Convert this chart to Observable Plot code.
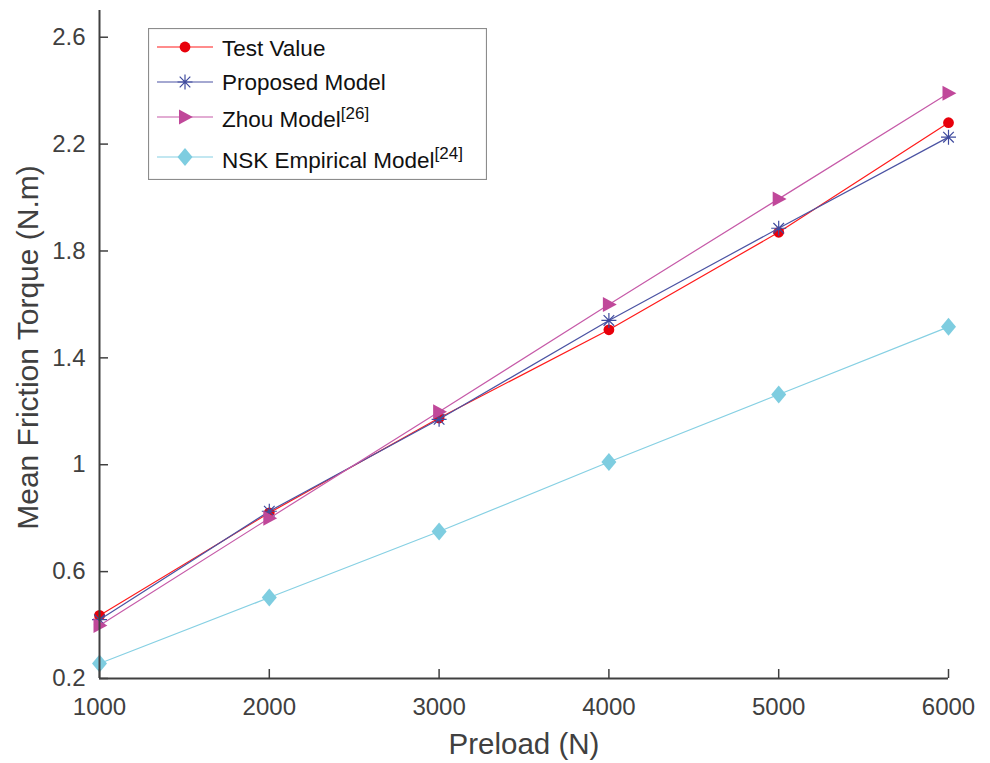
<!DOCTYPE html>
<html>
<head>
<meta charset="utf-8">
<script src="https://cdn.jsdelivr.net/npm/d3@7"></script>
<script src="https://cdn.jsdelivr.net/npm/@observablehq/plot@0.6"></script>
<style>
  html, body { margin: 0; padding: 0; background: #fff; }
  #wrap { position: relative; width: 990px; height: 763px; font-family: "Liberation Sans", Arial, sans-serif; }
  #legend { position: absolute; left: 148px; top: 28px; }
</style>
</head>
<body>
<div id="wrap"><div id="chart"></div><div id="legend"></div></div>
<script>
const preload = [1000, 2000, 3000, 4000, 5000, 6000];
const testValue = [0.436, 0.82, 1.175, 1.505, 1.87, 2.28];
const proposedModel = [0.42, 0.826, 1.17, 1.54, 1.885, 2.226];
const zhouModel = [0.398, 0.80, 1.198, 1.60, 1.995, 2.39];
const nskModel = [0.256, 0.503, 0.75, 1.01, 1.263, 1.516];
const xTicks = [1000, 2000, 3000, 4000, 5000, 6000];
const yTicks = [0.2, 0.6, 1.0, 1.4, 1.8, 2.2, 2.6];
const seriesNames = ["Test Value", "Proposed Model", "Zhou Model", "NSK Empirical Model"];
const seriesRefs = ["", "", "[26]", "[24]"];

// custom marker shapes (MATLAB-like)
const symCircle = {draw(ctx, size) { const r = Math.sqrt(size / Math.PI) * 0.72; ctx.moveTo(r, 0); ctx.arc(0, 0, r, 0, 2 * Math.PI); }};
const symStar = {draw(ctx, size) {
  const r = Math.sqrt(size / Math.PI);
  for (let i = 0; i < 4; i++) {
    const a = i * Math.PI / 4;
    ctx.moveTo(-r * Math.cos(a), -r * Math.sin(a));
    ctx.lineTo(r * Math.cos(a), r * Math.sin(a));
  }
}};
const symTriRight = {draw(ctx, size) {
  const r = Math.sqrt(size / Math.PI);
  ctx.moveTo(-r * 0.8, -r); ctx.lineTo(r * 1.05, 0); ctx.lineTo(-r * 0.8, r); ctx.closePath();
}};
const symDiamond = {draw(ctx, size) {
  const r = Math.sqrt(size / Math.PI);
  ctx.moveTo(0, -r * 1.2); ctx.lineTo(r, 0); ctx.lineTo(0, r * 1.2); ctx.lineTo(-r, 0); ctx.closePath();
}};

const series = [
  {name: seriesNames[0], values: testValue, line: "#ff1a1a", mark: "#e8000b", symbol: symCircle, filled: true},
  {name: seriesNames[1], values: proposedModel, line: "#4b53a3", mark: "#3f4b9e", symbol: symStar, filled: false},
  {name: seriesNames[2], values: zhouModel, line: "#c65aa8", mark: "#c0489a", symbol: symTriRight, filled: true},
  {name: seriesNames[3], values: nskModel, line: "#86d0e3", mark: "#7ecde0", symbol: symDiamond, filled: true}
];

const marks = [];
for (const s of series) {
  const rows = preload.map((x, i) => ({x, y: s.values[i]}));
  marks.push(Plot.line(rows, {x: "x", y: "y", stroke: s.line, strokeWidth: 1.2}));
  marks.push(Plot.dot(rows, s.filled
    ? {x: "x", y: "y", r: 7.5, symbol: s.symbol, fill: s.mark, stroke: "none"}
    : {x: "x", y: "y", r: 7.5, symbol: s.symbol, fill: "none", stroke: s.mark, strokeWidth: 1.2}));
}

const axisColor = "#404040";
const chart = Plot.plot({
  width: 990,
  height: 763,
  marginLeft: 99,
  marginRight: 42,
  marginTop: 10,
  marginBottom: 85,
  style: {fontFamily: '"Liberation Sans", Arial, sans-serif', background: "white", overflow: "visible"},
  x: {domain: [1000, 6000]},
  y: {domain: [0.2, 2.7]},
  marks: [
    ...marks,
    Plot.ruleX([1000], {stroke: axisColor, strokeWidth: 2}),
    Plot.ruleY([0.2], {stroke: axisColor, strokeWidth: 2}),
    Plot.tickY(yTicks, {y: d => d, stroke: axisColor, strokeWidth: 1.5, insetRight: 849 - 9}),
    Plot.tickX(xTicks, {x: d => d, stroke: axisColor, strokeWidth: 1.5, insetTop: 668 - 9}),
    Plot.axisY(yTicks, {tickSize: 0, tickPadding: 14, fontSize: 24, fill: axisColor, label: null, tickFormat: d => String(+d.toFixed(1))}),
    Plot.axisX(xTicks, {tickSize: 0, tickPadding: 19, fontSize: 24, fill: axisColor, label: null, tickFormat: d => String(d)}),
    Plot.text(["Preload (N)"], {frameAnchor: "bottom", dy: 66, fontSize: 29.5, fill: axisColor, lineAnchor: "middle", textAnchor: "middle"}),
    Plot.text(["Mean Friction Torque (N.m)"], {frameAnchor: "left", dx: -71, dy: 3, rotate: -90, fontSize: 30, fill: axisColor, lineAnchor: "middle", textAnchor: "middle"})
  ]
});
document.getElementById("chart").appendChild(chart);

// legend (HTML overlay with SVG swatches)
const lw = 339, lh = 152;
const rowY = [19, 54, 89, 129];
const textShift = [1.5, 0.5, 2.5, 3];
const leg = d3.select("#legend").append("svg").attr("width", lw).attr("height", lh)
  .style("font-family", '"Liberation Sans", Arial, sans-serif');
leg.append("rect").attr("x", 0.5).attr("y", 0.5).attr("width", lw - 1).attr("height", lh - 1)
  .attr("fill", "white").attr("stroke", "#8c8c8c").attr("stroke-width", 1.2);
series.forEach((s, i) => {
  const g = leg.append("g").attr("transform", `translate(0,${rowY[i]})`);
  g.append("line").attr("x1", 9).attr("x2", 65).attr("y1", 0).attr("y2", 0).attr("stroke", s.line).attr("stroke-width", 1.2);
  const p = d3.path();
  s.symbol.draw(p, Math.PI * 7.5 * 7.5);
  g.append("path").attr("d", p.toString()).attr("transform", "translate(37,0)")
    .attr("fill", s.filled ? s.mark : "none").attr("stroke", s.filled ? "none" : s.mark).attr("stroke-width", 1.2);
  const t = g.append("text").attr("x", 74).attr("y", textShift[i]).attr("dy", "0.35em").attr("font-size", 22.5).attr("fill", "#111").text(s.name);
  if (seriesRefs[i]) t.append("tspan").attr("dy", "-0.5em").attr("font-size", 17).text(seriesRefs[i]);
});
</script>
</body>
</html>
